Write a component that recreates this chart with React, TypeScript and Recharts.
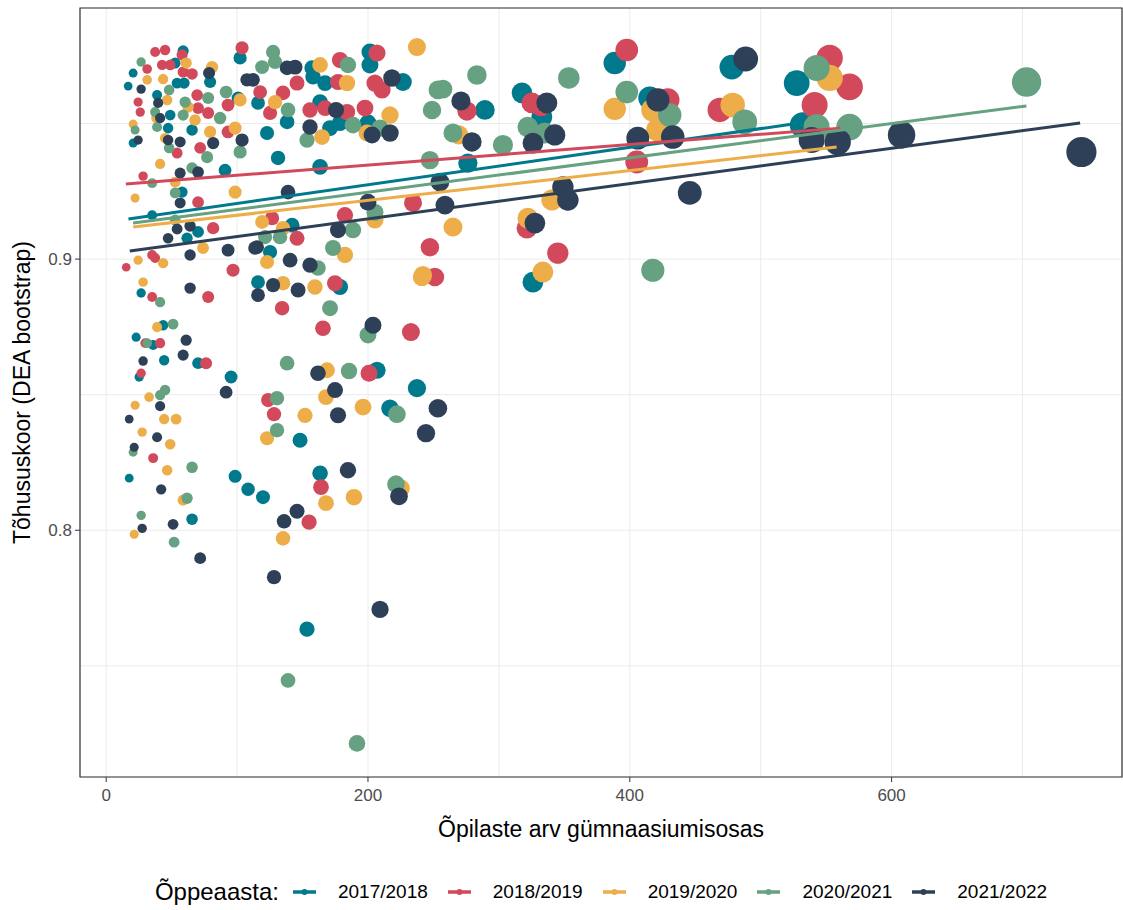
import React from 'react';
import { ScatterChart, Scatter, XAxis, YAxis, ZAxis, CartesianGrid, ReferenceArea } from 'recharts';

const FONT = '"Liberation Sans", Arial, sans-serif';

const YEARS = ['2017/2018', '2018/2019', '2019/2020', '2020/2021', '2021/2022'];
const COLORS = ['#00798c', '#d1495b', '#edae49', '#66a182', '#2e4057'];

const X_DOMAIN: [number, number] = [-20, 776];
const Y_DOMAIN: [number, number] = [0.709, 0.9926];
const X_TICKS = [0, 100, 200, 300, 400, 500, 600, 700];
const Y_TICKS = [0.75, 0.8, 0.85, 0.9, 0.95];

const X_TITLE = 'Õpilaste arv gümnaasiumisosas';
const Y_TITLE = 'Tõhususkoor (DEA bootstrap)';
const LEGEND_TITLE = 'Õppeaasta:';

// [students, efficiency]
const pts2017: [number, number][] = [
  [58.8, 0.9768], [52.7, 0.9723], [20.6, 0.9686], [16.8, 0.9638], [79.4, 0.9653], [54.2, 0.9649],
  [59.5, 0.9649], [38.9, 0.9605], [100.8, 0.9594], [102.3, 0.9742], [48.9, 0.9531], [47.3, 0.9483],
  [65.6, 0.9476], [20.6, 0.9428], [90.8, 0.9328], [58.0, 0.9247], [35.1, 0.9162], [70.2, 0.91],
  [61.8, 0.9077], [26.7, 0.8875], [43.5, 0.8756], [22.9, 0.8712], [35.9, 0.8683], [44.3, 0.8627],
  [70.2, 0.8616], [25.2, 0.8565], [95.4, 0.8565], [17.6, 0.8192], [98.5, 0.8199], [108.4, 0.8151],
  [119.8, 0.8122], [65.6, 0.8041], [157.3, 0.9705], [201.5, 0.9764], [201.5, 0.9716], [158.0, 0.9672],
  [167.2, 0.9649], [226.7, 0.9653], [116.0, 0.9576], [163.4, 0.9579], [138.2, 0.9506], [171.0, 0.9483],
  [178.6, 0.9502], [200, 0.9502], [122.9, 0.9465], [131.3, 0.9373], [163.4, 0.934], [142.0, 0.9125],
  [125.2, 0.9026], [178.6, 0.8897], [116.0, 0.8915], [206.9, 0.859], [237.4, 0.8524], [216.8, 0.845],
  [148.1, 0.8332], [163.4, 0.821], [153.4, 0.7635], [388.5, 0.9723], [289.3, 0.955], [317.6, 0.9613],
  [332.8, 0.9524], [415.3, 0.9594], [276.3, 0.9354], [326.0, 0.8915], [477.9, 0.9708], [527.5, 0.9649],
  [532.1, 0.9494],
];

const pts2018: [number, number][] = [
  [37.4, 0.9764], [45.0, 0.9771], [58.0, 0.9753], [42.7, 0.9716], [48.9, 0.9716], [31.3, 0.9701],
  [24.4, 0.9579], [26.0, 0.9542], [58.8, 0.969], [65.6, 0.9683], [69.5, 0.9605], [93.1, 0.9568],
  [103.8, 0.9779], [70.2, 0.9557], [77.9, 0.9539], [93.1, 0.9469], [71.8, 0.941], [54.2, 0.9391],
  [28.2, 0.9306], [70.2, 0.921], [81.7, 0.9114], [35.1, 0.9015], [37.4, 0.9004], [15.3, 0.897],
  [96.9, 0.8959], [35.1, 0.886], [77.9, 0.886], [29.8, 0.869], [41.2, 0.869], [76.3, 0.8616],
  [26.7, 0.8579], [35.9, 0.8266], [178.6, 0.9734], [206.9, 0.976], [117.6, 0.9616], [135.1, 0.9613],
  [145.8, 0.9649], [177.1, 0.9653], [205.3, 0.9649], [210.7, 0.9624], [125.2, 0.9539], [155.7, 0.955],
  [167.2, 0.9557], [184.0, 0.9542], [197.7, 0.9557], [234.4, 0.9207], [126.7, 0.9151], [182.4, 0.9162],
  [145.8, 0.9077], [247.3, 0.9044], [251.1, 0.8934], [174.8, 0.8911], [134.4, 0.8819], [165.6, 0.8745],
  [232.8, 0.8731], [200.8, 0.8579], [123.7, 0.848], [128.2, 0.8428], [164.1, 0.8159], [155.0, 0.803],
  [397.7, 0.9771], [275.6, 0.9546], [325.2, 0.9576], [332.1, 0.9565], [405.3, 0.9358], [321.4, 0.9114],
  [345.0, 0.9022], [552.7, 0.9742], [567.9, 0.9635], [468.7, 0.955], [541.2, 0.9568], [429.0, 0.9587],
];

const pts2019: [number, number][] = [
  [61.1, 0.9723], [80.9, 0.9708], [31.3, 0.9661], [43.5, 0.9664], [46.6, 0.9587], [102.3, 0.9587],
  [62.6, 0.9561], [38.2, 0.952], [67.9, 0.9513], [45.0, 0.9446], [79.4, 0.9469], [98.5, 0.9483],
  [20.6, 0.9498], [41.2, 0.9351], [52.7, 0.9284], [98.5, 0.9247], [22.1, 0.9225], [74.0, 0.9041],
  [24.4, 0.8996], [43.5, 0.8985], [28.2, 0.8915], [38.9, 0.8749], [32.8, 0.8491], [22.1, 0.8461],
  [44.3, 0.841], [53.4, 0.841], [27.5, 0.8362], [48.9, 0.8317], [46.6, 0.8221], [58.8, 0.8111],
  [21.4, 0.7985], [163.4, 0.9716], [237.4, 0.9782], [184.0, 0.9649], [129.0, 0.9579], [216.8, 0.9531],
  [199.2, 0.9465], [164.9, 0.945], [205.3, 0.9144], [119.1, 0.9137], [135.1, 0.9114], [122.9, 0.8989],
  [182.4, 0.9015], [241.2, 0.8934], [159.5, 0.8897], [135.1, 0.8911], [168.7, 0.859], [167.9, 0.8491],
  [151.9, 0.8424], [196.2, 0.8454], [122.9, 0.8339], [167.9, 0.81], [189.3, 0.8122], [135.1, 0.797],
  [225.2, 0.8155], [269.5, 0.9458], [388.5, 0.9554], [417.6, 0.955], [421.4, 0.9476], [340.5, 0.9218],
  [322.1, 0.9151], [264.9, 0.9118], [333.6, 0.8952], [242.0, 0.8941], [478.6, 0.9568], [552.7, 0.9668],
];

const pts2020: [number, number][] = [
  [26.7, 0.9727], [48.1, 0.9624], [60.3, 0.9579], [77.9, 0.9594], [91.6, 0.9616], [37.4, 0.9542],
  [58.8, 0.9531], [87.0, 0.952], [38.9, 0.9487], [22.1, 0.9476], [48.1, 0.941], [102.3, 0.9395],
  [77.1, 0.9376], [35.1, 0.928], [65.6, 0.9336], [52.7, 0.9244], [52.7, 0.9144], [41.2, 0.8841],
  [51.1, 0.876], [31.3, 0.869], [45.0, 0.8517], [41.2, 0.8498], [20.6, 0.8288], [65.6, 0.8232],
  [61.8, 0.8118], [26.7, 0.8055], [51.9, 0.7956], [127.5, 0.9764], [129.0, 0.9727], [119.1, 0.9708],
  [184.7, 0.9716], [138.9, 0.955], [188.5, 0.9494], [209.2, 0.9483], [153.4, 0.9439], [248.9, 0.955],
  [253.4, 0.9624], [205.3, 0.9173], [188.5, 0.9107], [132.8, 0.9081], [121.4, 0.9081], [173.3, 0.9041],
  [161.8, 0.8967], [171.0, 0.8819], [200, 0.872], [138.2, 0.8616], [185.5, 0.8587], [130.5, 0.8487],
  [222.1, 0.8428], [130.5, 0.8369], [221.4, 0.817], [138.9, 0.7446], [191.6, 0.7214], [283.2, 0.9679],
  [353.4, 0.9668], [257.3, 0.9627], [397.7, 0.9616], [264.9, 0.9465], [303.1, 0.9421], [322.1, 0.9487],
  [335.1, 0.9465], [247.3, 0.9365], [417.6, 0.8959], [542.7, 0.9705], [487.8, 0.9506], [430.5, 0.9531],
  [542.7, 0.9487], [567.9, 0.9487], [703.1, 0.9653],
];

const pts2021: [number, number][] = [
  [26.7, 0.9627], [78.6, 0.9686], [107.6, 0.9661], [39.7, 0.9576], [41.2, 0.952], [47.3, 0.9439],
  [56.5, 0.9432], [81.7, 0.9428], [103.8, 0.9439], [24.4, 0.9439], [56.5, 0.9317], [70.2, 0.9321],
  [56.5, 0.9207], [54.2, 0.9111], [64.1, 0.9122], [47.3, 0.9077], [93.1, 0.9033], [113.7, 0.9041],
  [64.1, 0.9015], [64.1, 0.8893], [61.1, 0.8701], [58.8, 0.8646], [28.2, 0.8624], [91.6, 0.8509],
  [41.2, 0.8458], [17.6, 0.841], [38.9, 0.8343], [21.4, 0.8306], [42.0, 0.8151], [27.5, 0.8007],
  [51.1, 0.8022], [71.8, 0.7897], [112.2, 0.9661], [138.2, 0.9705], [144.3, 0.9708], [218.3, 0.9668],
  [175.6, 0.955], [155.7, 0.9487], [203.1, 0.9458], [216.8, 0.9465], [138.9, 0.9247], [200, 0.921],
  [177.1, 0.9107], [115.3, 0.9044], [140.5, 0.8996], [155.7, 0.8978], [146.6, 0.8886], [127.5, 0.8904],
  [116.0, 0.8867], [203.8, 0.8756], [161.8, 0.8579], [174.8, 0.8517], [177.1, 0.8424], [244.3, 0.8358],
  [253.4, 0.845], [184.7, 0.8221], [145.8, 0.807], [135.9, 0.8033], [223.7, 0.8125], [128.2, 0.7827],
  [209.2, 0.7708], [271.0, 0.9583], [336.6, 0.9576], [279.4, 0.9432], [326.0, 0.9428], [342.7, 0.9458],
  [406.1, 0.9446], [255.0, 0.9284], [348.9, 0.9266], [352.7, 0.9218], [258.8, 0.9199], [327.5, 0.9133],
  [421.4, 0.9587], [488.5, 0.9738], [432.8, 0.945], [538.9, 0.9439], [558.8, 0.9432], [607.6, 0.9458],
  [445.8, 0.9244], [745.0, 0.9395],
];

// linear fit endpoints per year
const fit2017: [number, number][] = [[17, 0.9148], [530, 0.9502]];
const fit2018: [number, number][] = [[15, 0.9277], [561, 0.9483]];
const fit2019: [number, number][] = [[20.6, 0.9118], [558, 0.9413]];
const fit2020: [number, number][] = [[20.6, 0.9133], [703, 0.9565]];
const fit2021: [number, number][] = [[18, 0.903], [744, 0.9502]];

const POINTS = [pts2017, pts2018, pts2019, pts2020, pts2021];
const FITS = [fit2017, fit2018, fit2019, fit2020, fit2021];

const toObj = (arr: [number, number][]) => arr.map(([x, y]) => ({ x, y }));

const TICK_SIZE = 5;
const TICK_MARGIN = 2;

const XTick = (props: any) => {
  const { x, y, payload } = props;
  const v = payload.value;
  if (v % 200 !== 0) return <g />;
  const axisY = y - TICK_SIZE - TICK_MARGIN;
  return (
    <g>
      <line x1={x} x2={x} y1={axisY} y2={axisY + 5} stroke="#333" strokeWidth={1} />
      <text x={x} y={axisY + 24} textAnchor="middle" fill="#4d4d4d" fontSize={17} fontFamily={FONT}>
        {v}
      </text>
    </g>
  );
};

const YTick = (props: any) => {
  const { x, y, payload } = props;
  const v = payload.value;
  const major = Math.abs(v * 10 - Math.round(v * 10)) < 1e-6;
  if (!major) return <g />;
  const axisX = x + TICK_SIZE + TICK_MARGIN;
  return (
    <g>
      <line x1={axisX - 5} x2={axisX} y1={y} y2={y} stroke="#333" strokeWidth={1} />
      <text x={axisX - 8} y={y + 6} textAnchor="end" fill="#4d4d4d" fontSize={17} fontFamily={FONT}>
        {v.toFixed(1)}
      </text>
    </g>
  );
};

const XTitle = (props: any) => {
  const vb = props.viewBox || { x: 0, y: 0, width: 0, height: 0 };
  return (
    <text x={vb.x + vb.width / 2} y={vb.y + 60} textAnchor="middle" fill="#000" fontSize={23} fontFamily={FONT}>
      {X_TITLE}
    </text>
  );
};

const YTitle = (props: any) => {
  const vb = props.viewBox || { x: 0, y: 0, width: 0, height: 0 };
  const cx = vb.x + 30;
  const cy = vb.y + vb.height / 2;
  return (
    <text
      x={cx}
      y={cy}
      textAnchor="middle"
      fill="#000"
      fontSize={23}
      fontFamily={FONT}
      transform={`rotate(-90, ${cx}, ${cy})`}
    >
      {Y_TITLE}
    </text>
  );
};

export default function App() {
  return (
    <div style={{ position: 'absolute', left: 0, top: 0, width: 1123, height: 910, background: '#fff', fontFamily: FONT }}>
      <ScatterChart width={1123} height={860} margin={{ top: 8, right: 1, bottom: 23, left: 0 }}>
        <CartesianGrid stroke="#ebebeb" strokeWidth={1} />
        <XAxis
          type="number"
          dataKey="x"
          domain={X_DOMAIN}
          ticks={X_TICKS}
          allowDataOverflow
          axisLine={false}
          tickLine={false}
          tickSize={TICK_SIZE}
          tickMargin={TICK_MARGIN}
          tick={<XTick />}
          height={60}
          interval={0}
          label={<XTitle />}
        />
        <YAxis
          type="number"
          dataKey="y"
          domain={Y_DOMAIN}
          ticks={Y_TICKS}
          allowDataOverflow
          axisLine={false}
          tickLine={false}
          tickSize={TICK_SIZE}
          tickMargin={TICK_MARGIN}
          tick={<YTick />}
          width={80}
          interval={0}
          label={<YTitle />}
        />
        <ZAxis type="number" dataKey="x" domain={[0, 750]} range={[45, 720]} />
        {POINTS.map((pts, i) => (
          <Scatter
            key={`p${i}`}
            name={YEARS[i]}
            data={toObj(pts)}
            fill={COLORS[i]}
            shape="circle"
            isAnimationActive={false}
          />
        ))}
        {FITS.map((f, i) => (
          <Scatter
            key={`f${i}`}
            data={toObj(f)}
            fill={COLORS[i]}
            line={{ stroke: COLORS[i], strokeWidth: 3 }}
            shape={() => <g />}
            isAnimationActive={false}
            legendType="none"
          />
        ))}
        <ReferenceArea
          x1={X_DOMAIN[0]}
          x2={X_DOMAIN[1]}
          y1={Y_DOMAIN[0]}
          y2={Y_DOMAIN[1]}
          fill="none"
          fillOpacity={0}
          stroke="#333"
          strokeWidth={1.2}
        />
      </ScatterChart>
      <div
        style={{
          position: 'absolute',
          left: 80,
          top: 878,
          width: 1042,
          display: 'flex',
          justifyContent: 'center',
          alignItems: 'center',
          color: '#000',
        }}
      >
        <span style={{ fontSize: 24, marginRight: 14 }}>{LEGEND_TITLE}</span>
        {YEARS.map((yr, i) => (
          <span key={yr} style={{ display: 'flex', alignItems: 'center', marginRight: i < YEARS.length - 1 ? 20 : 0 }}>
            <svg width={23} height={12}>
              <line x1={0} x2={23} y1={6} y2={6} stroke={COLORS[i]} strokeWidth={3.5} />
              <circle cx={11.5} cy={6} r={3} fill={COLORS[i]} />
            </svg>
            <span style={{ marginLeft: 22, fontSize: 19 }}>{yr}</span>
          </span>
        ))}
      </div>
    </div>
  );
}
